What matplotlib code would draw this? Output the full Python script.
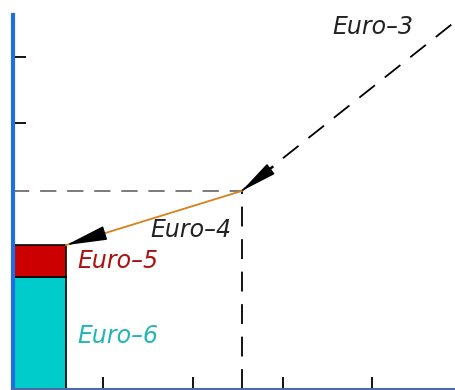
import matplotlib.pyplot as plt

# Stage points (x, y) in chart units
stages = ['Euro-3', 'Euro-4', 'Euro-5', 'Euro-6']
stage_x = [4.87, 2.54, 0.59, 0.59]
stage_y = [5.52, 3.00, 2.18, 1.70]

# Stacked bar at the origin
bar_width = 0.59
bar_bottoms = [0.0, 1.70]
bar_tops = [1.70, 2.18]
bar_colors = ['#00cccc', '#cc0000']

x_ticks = [1.0, 2.0, 3.0, 3.99]
y_ticks = [1.0, 1.92, 4.03, 5.03]

fig = plt.figure(figsize=(4.56, 3.90), dpi=100)
ax = fig.add_axes([13 / 456, 1 / 390, 443 / 456, 374 / 390])
ax.set_xlim(0, 443 / 90)
ax.set_ylim(0, 374 / 66)

# bars
for b, t, c in zip(bar_bottoms, bar_tops, bar_colors):
    ax.bar(0, t - b, bottom=b, width=bar_width, align='edge', color=c,
           edgecolor='black', linewidth=1.2, zorder=2)

# guide lines to Euro-4
ax.plot([0, stage_x[1]], [stage_y[1], stage_y[1]], color='#707070',
        lw=1.3, dashes=(9, 6), zorder=1)
ax.plot([stage_x[1], stage_x[1]], [0, stage_y[1]], color='black',
        lw=1.3, dashes=(11, 7), zorder=1)

# Euro-3 -> Euro-4 (dashed)
ax.plot([stage_x[0], stage_x[1]], [stage_y[0], stage_y[1]], color='black',
        lw=1.3, dashes=(11, 7))
ax.annotate('', xy=(stage_x[1], stage_y[1]),
            xytext=(stage_x[1] + 0.35, stage_y[1] + 0.36),
            arrowprops=dict(arrowstyle='-|>,head_length=2.3,head_width=0.4',
                            color='black', lw=1.0, shrinkA=0, shrinkB=0))

# Euro-4 -> Euro-5 (orange)
ax.plot([stage_x[1], stage_x[2]], [stage_y[1], stage_y[2]], color='#d9801a',
        lw=1.3)
ax.annotate('', xy=(stage_x[2], stage_y[2]),
            xytext=(stage_x[2] + 0.40, stage_y[2] + 0.17),
            arrowprops=dict(arrowstyle='-|>,head_length=2.6,head_width=0.45',
                            color='black', lw=1.0, shrinkA=0, shrinkB=0))

font = dict(family='DejaVu Sans', style='italic', fontsize=17)
ax.text(3.55, 5.38, 'Euro–3', color='#222222', **font)
ax.text(1.53, 2.30, 'Euro–4', color='#222222', **font)
ax.text(0.72, 1.84, 'Euro–5', color='#aa1111', **font)
ax.text(0.72, 0.70, 'Euro–6', color='#22b5b5', **font)

# axes styling
for s in ['top', 'right']:
    ax.spines[s].set_visible(False)
ax.spines['left'].set_color('#1f6fe0')
ax.spines['left'].set_linewidth(3)
ax.spines['bottom'].set_color('#4a6aa8')
ax.spines['bottom'].set_linewidth(1.5)
ax.set_xticks(x_ticks)
ax.set_yticks(y_ticks)
ax.tick_params(direction='in', length=9, width=1.3, color='black',
               labelbottom=False, labelleft=False)

plt.savefig('out.png', dpi=100)
